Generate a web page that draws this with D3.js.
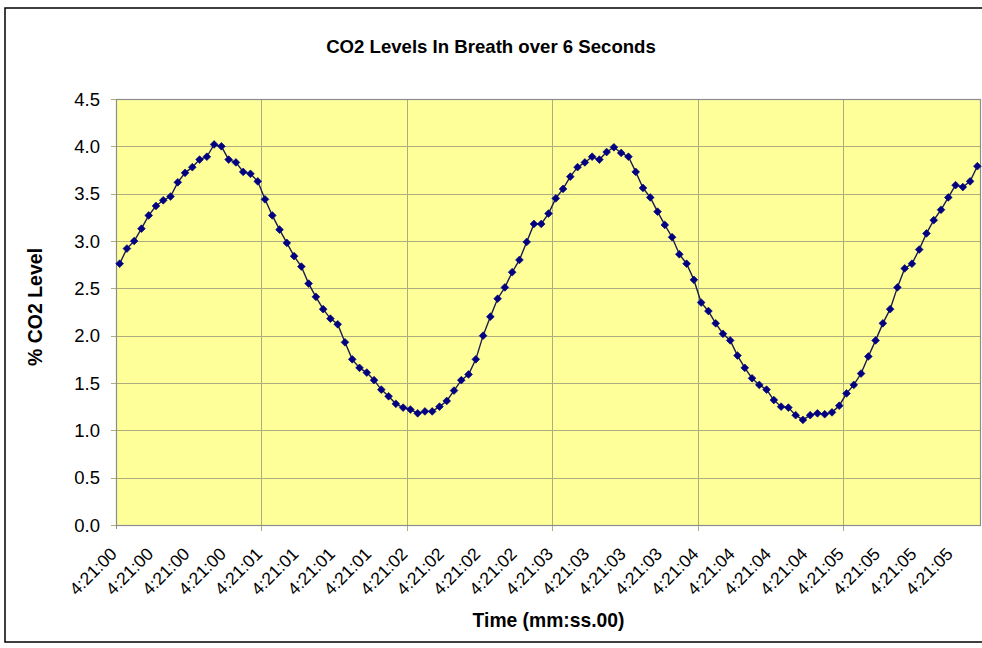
<!DOCTYPE html>
<html>
<head>
<meta charset="utf-8">
<script src="https://cdn.jsdelivr.net/npm/d3@7/dist/d3.min.js"></script>
<style>
  body { margin: 0; background: #fff; }
  text { font-family: "Liberation Sans", Arial, sans-serif; }
</style>
</head>
<body>
<svg id="svg"></svg>
<script>
// CO2 % per sample (0.05 s apart)
const co2Level = [
  2.76, 2.92, 3.00, 3.13, 3.27, 3.37, 3.43, 3.47, 3.62, 3.72,
  3.78, 3.86, 3.89, 4.02, 4.00, 3.86, 3.83, 3.73, 3.71, 3.63,
  3.44, 3.27, 3.12, 2.98, 2.84, 2.73, 2.55, 2.41, 2.28, 2.18,
  2.12, 1.93, 1.75, 1.66, 1.61, 1.53, 1.43, 1.36, 1.28, 1.24,
  1.22, 1.18, 1.20, 1.20, 1.25, 1.31, 1.42, 1.53, 1.59, 1.75,
  2.00, 2.20, 2.39, 2.51, 2.67, 2.80, 2.99, 3.18, 3.18, 3.29,
  3.45, 3.55, 3.68, 3.78, 3.83, 3.89, 3.86, 3.94, 3.99, 3.93,
  3.89, 3.73, 3.56, 3.46, 3.31, 3.17, 3.04, 2.86, 2.76, 2.59,
  2.35, 2.26, 2.13, 2.02, 1.95, 1.79, 1.66, 1.55, 1.48, 1.43,
  1.32, 1.25, 1.24, 1.16, 1.11, 1.16, 1.18, 1.17, 1.19, 1.26,
  1.39, 1.48, 1.60, 1.78, 1.95, 2.13, 2.28, 2.51, 2.71, 2.76,
  2.91, 3.08, 3.22, 3.33, 3.46, 3.59, 3.57, 3.63, 3.79
];

// one label every 5 samples
const tickLabels = [
  "4:21:00", "4:21:00", "4:21:00", "4:21:00",
  "4:21:01", "4:21:01", "4:21:01", "4:21:01",
  "4:21:02", "4:21:02", "4:21:02", "4:21:02",
  "4:21:03", "4:21:03", "4:21:03", "4:21:03",
  "4:21:04", "4:21:04", "4:21:04", "4:21:04",
  "4:21:05", "4:21:05", "4:21:05", "4:21:05"
];
const labelEvery = 5;
const gridEvery = 20;

const yTicks = [0, 0.5, 1, 1.5, 2, 2.5, 3, 3.5, 4, 4.5];

const chartTitle = "CO2 Levels In Breath over 6 Seconds";
const xTitle = "Time (mm:ss.00)";
const yTitle = "% CO2 Level";

let layout = {"width": 982,
              "height": 648,
              "plotLeft": 116,
              "plotRight": 981,
              "plotTop": 99,
              "plotBottom": 525};

let svg = d3.select("#svg")
            .attr("width", layout.width)
            .attr("height", layout.height);

// outer chart frame (right side runs off the picture)
svg.append("rect")
   .attr("x", 5).attr("y", 8)
   .attr("width", 1000).attr("height", 634)
   .attr("fill", "#fff")
   .attr("stroke", "#000")
   .attr("stroke-width", 1.5);

let xScale = d3.scaleBand()
               .domain(d3.range(co2Level.length))
               .range([layout.plotLeft, layout.plotRight]);

let yScale = d3.scaleLinear()
               .domain([0, 4.5])
               .range([layout.plotBottom, layout.plotTop]);

// plot area
svg.append("rect")
   .attr("x", layout.plotLeft).attr("y", layout.plotTop)
   .attr("width", layout.plotRight - layout.plotLeft)
   .attr("height", layout.plotBottom - layout.plotTop)
   .attr("fill", "#ffff99");

// horizontal gridlines + small ticks on the left
svg.append("g")
   .selectAll("line")
   .data(yTicks)
   .join("line")
   .attr("x1", layout.plotLeft - 5)
   .attr("x2", layout.plotRight)
   .attr("y1", d => Math.round(yScale(d)) + 0.5)
   .attr("y2", d => Math.round(yScale(d)) + 0.5)
   .attr("stroke", "#adad80")
   .attr("stroke-width", 1);

// vertical gridlines every 20 samples, ticking below the plot
let gridIdx = d3.range(gridEvery, co2Level.length, gridEvery);
svg.append("g")
   .selectAll("line")
   .data(gridIdx)
   .join("line")
   .attr("x1", d => Math.round(xScale(d)) + 0.5)
   .attr("x2", d => Math.round(xScale(d)) + 0.5)
   .attr("y1", layout.plotTop)
   .attr("y2", layout.plotBottom + 6)
   .attr("stroke", "#adad80")
   .attr("stroke-width", 1);

svg.append("rect")
   .attr("x", layout.plotLeft + 0.5).attr("y", layout.plotTop + 0.5)
   .attr("width", layout.plotRight - layout.plotLeft - 1)
   .attr("height", layout.plotBottom - layout.plotTop)
   .attr("fill", "none")
   .attr("stroke", "#8c8c8c")
   .attr("stroke-width", 1.2);

svg.append("line")
   .attr("x1", layout.plotLeft + 0.5).attr("x2", layout.plotLeft + 0.5)
   .attr("y1", layout.plotBottom).attr("y2", layout.plotBottom + 4)
   .attr("stroke", "#8c8c8c");

// y tick labels
svg.append("g")
   .selectAll("text")
   .data(yTicks)
   .join("text")
   .attr("x", 100)
   .attr("y", d => yScale(d))
   .attr("dy", "0.36em")
   .attr("text-anchor", "end")
   .attr("font-size", 18.5)
   .attr("fill", "#000")
   .text(d => d.toFixed(1));

// x tick labels, rotated
let labelData = tickLabels.map((t, k) => ({label: t, idx: k * labelEvery}));
svg.append("g")
   .selectAll("text")
   .data(labelData)
   .join("text")
   .attr("text-anchor", "end")
   .attr("transform", d => `translate(${xScale(d.idx) + 2}, ${layout.plotBottom + 30}) rotate(-45)`)
   .attr("font-size", 17.5)
   .attr("fill", "#000")
   .text(d => d.label);

// line + diamond markers
let lineFunction = d3.line()
                     .x((d, i) => xScale(i) + xScale.bandwidth() / 2)
                     .y(d => yScale(d));

svg.append("path")
   .datum(co2Level)
   .attr("fill", "none")
   .attr("stroke", "#1c1c4e")
   .attr("stroke-width", 1.4)
   .attr("d", lineFunction);

let diamond = d3.symbol(d3.symbolSquare, 30);
svg.append("g")
   .selectAll("path")
   .data(co2Level)
   .join("path")
   .attr("transform", (d, i) => `translate(${xScale(i) + xScale.bandwidth() / 2}, ${yScale(d)}) rotate(45)`)
   .attr("d", diamond)
   .attr("fill", "#000080")
   .attr("stroke", "#000080")
   .attr("stroke-width", 0.6);

// titles
svg.append("text")
   .attr("x", 491).attr("y", 53)
   .attr("text-anchor", "middle")
   .attr("font-size", 18.6)
   .attr("font-weight", "bold")
   .text(chartTitle);

svg.append("text")
   .attr("x", (layout.plotLeft + layout.plotRight) / 2).attr("y", 627)
   .attr("text-anchor", "middle")
   .attr("font-size", 19.3)
   .attr("font-weight", "bold")
   .text(xTitle);

svg.append("text")
   .attr("transform", `translate(42, ${(layout.plotTop + layout.plotBottom) / 2 - 5}) rotate(-90)`)
   .attr("text-anchor", "middle")
   .attr("font-size", 19.5)
   .attr("font-weight", "bold")
   .text(yTitle);
</script>
</body>
</html>
